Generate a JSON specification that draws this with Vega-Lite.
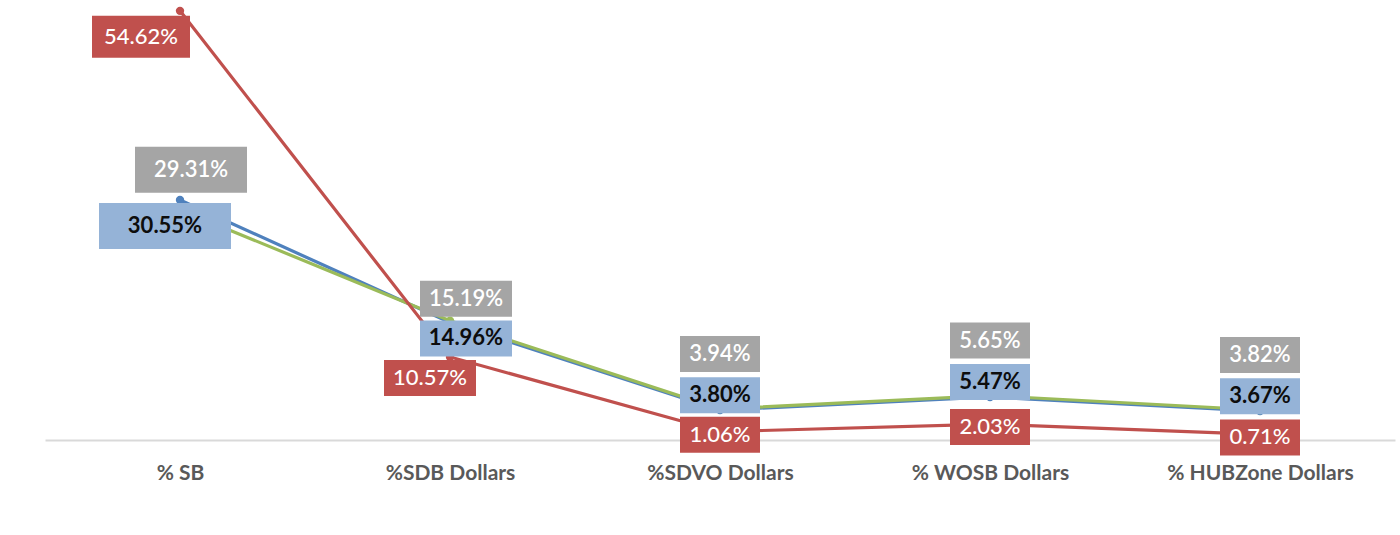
{
  "$schema": "https://vega.github.io/schema/vega-lite/v6.json",
  "width": 1350,
  "height": 440,
  "autosize": {"type": "none"},
  "padding": {"left": 45, "top": 0, "right": 5, "bottom": 95},
  "background": "white",
  "config": {"view": {"stroke": null}, "font": "Lato"},
  "data": {
    "values": [
      {"category": "% SB", "series": "Blue", "value": 0.3055},
      {"category": "%SDB Dollars", "series": "Blue", "value": 0.1496},
      {"category": "%SDVO Dollars", "series": "Blue", "value": 0.0380},
      {"category": "% WOSB Dollars", "series": "Blue", "value": 0.0547},
      {"category": "% HUBZone Dollars", "series": "Blue", "value": 0.0367},
      {"category": "% SB", "series": "Green", "value": 0.2931},
      {"category": "%SDB Dollars", "series": "Green", "value": 0.1519},
      {"category": "%SDVO Dollars", "series": "Green", "value": 0.0394},
      {"category": "% WOSB Dollars", "series": "Green", "value": 0.0565},
      {"category": "% HUBZone Dollars", "series": "Green", "value": 0.0382},
      {"category": "% SB", "series": "Red", "value": 0.5462},
      {"category": "%SDB Dollars", "series": "Red", "value": 0.1057},
      {"category": "%SDVO Dollars", "series": "Red", "value": 0.0106},
      {"category": "% WOSB Dollars", "series": "Red", "value": 0.0203},
      {"category": "% HUBZone Dollars", "series": "Red", "value": 0.0071}
    ]
  },
  "encoding": {
    "x": {
      "field": "category",
      "type": "nominal",
      "sort": ["% SB", "%SDB Dollars", "%SDVO Dollars", "% WOSB Dollars", "% HUBZone Dollars"],
      "scale": {"type": "point", "padding": 0.5},
      "axis": {
        "title": null,
        "domainColor": "#d9d9d9",
        "domainWidth": 2,
        "ticks": false,
        "grid": false,
        "labelAngle": 0,
        "labelFont": "Lato",
        "labelFontSize": 21,
        "labelFontWeight": "bold",
        "labelColor": "#595959",
        "labelPadding": 22,
        "labelLimit": 400
      }
    },
    "y": {
      "field": "value",
      "type": "quantitative",
      "scale": {"domain": [0, 0.56]},
      "axis": null
    }
  },
  "layer": [
    {
      "mark": {"type": "line", "strokeWidth": 3.2},
      "encoding": {
        "color": {
          "field": "series",
          "type": "nominal",
          "scale": {"domain": ["Blue", "Green", "Red"], "range": ["#4f81bd", "#9bbb59", "#c0504d"]},
          "legend": null
        }
      }
    },
    {
      "mark": {"type": "point", "filled": true, "size": 70, "opacity": 1},
      "encoding": {
        "color": {
          "field": "series",
          "type": "nominal",
          "scale": {"domain": ["Blue", "Green", "Red"], "range": ["#4f81bd", "#9bbb59", "#c0504d"]},
          "legend": null
        }
      }
    },
    {
      "transform": [{"filter": "datum.series === 'Green'"}],
      "mark": {
        "type": "rect",
        "color": "#a5a5a5",
        "width": {"expr": "datum.category === '% SB' ? 112 : (datum.value >= 0.1 ? 92 : 80)"},
        "height": {"expr": "datum.category === '% SB' ? 46 : 36"},
        "xOffset": {"expr": "datum.category === '% SB' ? 11 : (datum.category === '%SDB Dollars' ? 16 : 0)"},
        "yOffset": {"expr": "datum.category === '% SB' ? -40 : (datum.category === '%SDB Dollars' ? -22 : -55)"}
      }
    },
    {
      "transform": [{"filter": "datum.series === 'Green'"}],
      "mark": {
        "type": "text",
        "color": "white",
        "fontSize": 22,
        "fontWeight": 600,
        "align": "center",
        "baseline": "middle",
        "xOffset": {"expr": "datum.category === '% SB' ? 11 : (datum.category === '%SDB Dollars' ? 16 : 0)"},
        "yOffset": {"expr": "datum.category === '% SB' ? -40 : (datum.category === '%SDB Dollars' ? -22 : -55)"}
      },
      "encoding": {"text": {"field": "value", "type": "quantitative", "format": ".2%"}}
    },
    {
      "transform": [{"filter": "datum.series === 'Blue'"}],
      "mark": {
        "type": "rect",
        "color": "#95b3d7",
        "width": {"expr": "datum.category === '% SB' ? 132 : (datum.value >= 0.1 ? 92 : 80)"},
        "height": {"expr": "datum.category === '% SB' ? 46 : 36"},
        "xOffset": {"expr": "datum.category === '% SB' ? -15 : (datum.category === '%SDB Dollars' ? 16 : 0)"},
        "yOffset": {"expr": "datum.category === '% SB' ? 26 : (datum.category === '%SDB Dollars' ? 16 : -15)"}
      }
    },
    {
      "transform": [{"filter": "datum.series === 'Blue'"}],
      "mark": {
        "type": "text",
        "color": "#0d0d0d",
        "fontSize": 22,
        "fontWeight": "bold",
        "align": "center",
        "baseline": "middle",
        "xOffset": {"expr": "datum.category === '% SB' ? -15 : (datum.category === '%SDB Dollars' ? 16 : 0)"},
        "yOffset": {"expr": "datum.category === '% SB' ? 26 : (datum.category === '%SDB Dollars' ? 16 : -15)"}
      },
      "encoding": {"text": {"field": "value", "type": "quantitative", "format": ".2%"}}
    },
    {
      "transform": [{"filter": "datum.series === 'Red'"}],
      "mark": {
        "type": "rect",
        "color": "#c0504d",
        "width": {"expr": "datum.category === '% SB' ? 98 : (datum.value >= 0.1 ? 92 : 80)"},
        "height": {"expr": "datum.category === '% SB' ? 42 : 36"},
        "xOffset": {"expr": "datum.category === '% SB' ? -39 : (datum.category === '%SDB Dollars' ? -20 : 0)"},
        "yOffset": {"expr": "datum.category === '% SB' ? 26 : (datum.category === '%SDB Dollars' ? 21 : 3)"}
      }
    },
    {
      "transform": [{"filter": "datum.series === 'Red'"}],
      "mark": {
        "type": "text",
        "color": "white",
        "fontSize": 22,
        "fontWeight": 500,
        "align": "center",
        "baseline": "middle",
        "xOffset": {"expr": "datum.category === '% SB' ? -39 : (datum.category === '%SDB Dollars' ? -20 : 0)"},
        "yOffset": {"expr": "datum.category === '% SB' ? 26 : (datum.category === '%SDB Dollars' ? 21 : 3)"}
      },
      "encoding": {"text": {"field": "value", "type": "quantitative", "format": ".2%"}}
    }
  ]
}
